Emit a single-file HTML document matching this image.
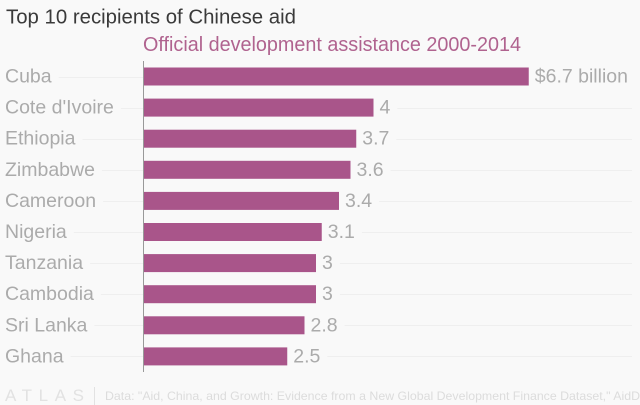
<!DOCTYPE html>
<html lang="en">
<head>
<meta charset="utf-8">
<title>Top 10 recipients of Chinese aid</title>
<style>
html,body{margin:0;padding:0;background:#f9f9f9;}
body{width:640px;height:405px;overflow:hidden;}
svg{display:block;}
text{font-family:"Liberation Sans",sans-serif;}
</style>
</head>
<body>
<svg id="chart" xmlns="http://www.w3.org/2000/svg" width="640" height="405" viewBox="0 0 640 405">
<rect x="0" y="0" width="640" height="405" fill="#f9f9f9"/>
<text x="6" y="23.5" font-size="20" fill="#3a3a3a" textLength="290" lengthAdjust="spacingAndGlyphs">Top 10 recipients of Chinese aid</text>
<text x="143" y="51" font-size="20" fill="#b0638f" textLength="378" lengthAdjust="spacingAndGlyphs">Official development assistance 2000-2014</text>
<g id="grid"></g>
<g id="bars"></g>
<g id="cats"></g>
<g id="vals"></g>
<line x1="143.5" y1="61" x2="143.5" y2="372" stroke="#999999" stroke-width="1"/>
<g>
<text x="5" y="401" font-size="17" fill="#e2e2e2" textLength="79" lengthAdjust="spacing">ATLAS</text>
</g>
<line x1="94.5" y1="387" x2="94.5" y2="405" stroke="#e2e2e2" stroke-width="1"/>
<text x="105" y="400" font-size="12" fill="#dcdcdc" textLength="535" lengthAdjust="spacingAndGlyphs">Data: "Aid, China, and Growth: Evidence from a New Global Development Finance Dataset," AidD</text>
</svg>
<script>
const categories = ["Cuba", "Cote d'Ivoire", "Ethiopia", "Zimbabwe", "Cameroon", "Nigeria", "Tanzania", "Cambodia", "Sri Lanka", "Ghana"];
const aidValues = [6.7, 4, 3.7, 3.6, 3.4, 3.1, 3, 3, 2.8, 2.5];
const valueLabels = ["$6.7 billion", "4", "3.7", "3.6", "3.4", "3.1", "3", "3", "2.8", "2.5"];

const NS = "http://www.w3.org/2000/svg";
const xOrigin = 143.5;
const pxPerUnit = 57.5;
const firstCenter = 76.5;
const bandStep = 31.1;
const barHeight = 18;
const rightEdge = 632;
const labelDrop = 6;

function xScale(v) { return xOrigin + v * pxPerUnit; }
function yScale(i) { return firstCenter + i * bandStep; }

const gridG = document.getElementById("grid");
const barsG = document.getElementById("bars");
const catsG = document.getElementById("cats");
const valsG = document.getElementById("vals");

categories.forEach(function (name, i) {
  const cy = yScale(i);
  const ly = Math.round(cy) + 0.5;

  const cat = document.createElementNS(NS, "text");
  
  
  cat.setAttribute("x", 5);
  cat.setAttribute("y", cy + labelDrop);
  cat.setAttribute("font-size", 19.5);
  cat.setAttribute("fill", "#ababab");
  cat.textContent = name;
  catsG.appendChild(cat);
  const catEnd = 5 + cat.getComputedTextLength();

  const leftGrid = document.createElementNS(NS, "line");
  
  
  leftGrid.setAttribute("x1", catEnd + 7);
  leftGrid.setAttribute("x2", xOrigin);
  leftGrid.setAttribute("y1", ly);
  leftGrid.setAttribute("y2", ly);
  leftGrid.setAttribute("stroke", "#efefef");
  gridG.appendChild(leftGrid);

  const bar = document.createElementNS(NS, "rect");
  
  
  bar.setAttribute("x", xOrigin);
  bar.setAttribute("y", cy - barHeight / 2);
  bar.setAttribute("width", xScale(aidValues[i]) - xOrigin);
  bar.setAttribute("height", barHeight);
  bar.setAttribute("fill", "#a9558a");
  barsG.appendChild(bar);

  const val = document.createElementNS(NS, "text");
  
  
  val.setAttribute("x", xScale(aidValues[i]) + 6);
  val.setAttribute("y", cy + labelDrop);
  val.setAttribute("font-size", 19.5);
  val.setAttribute("fill", "#ababab");
  val.textContent = valueLabels[i];
  valsG.appendChild(val);
  const valEnd = xScale(aidValues[i]) + 6 + val.getComputedTextLength();

  if (valEnd + 7 < rightEdge) {
    const rightGrid = document.createElementNS(NS, "line");
    
    
    rightGrid.setAttribute("x1", valEnd + 7);
    rightGrid.setAttribute("x2", rightEdge);
    rightGrid.setAttribute("y1", ly);
    rightGrid.setAttribute("y2", ly);
    rightGrid.setAttribute("stroke", "#efefef");
    gridG.appendChild(rightGrid);
  }
});
</script>
</body>
</html>
